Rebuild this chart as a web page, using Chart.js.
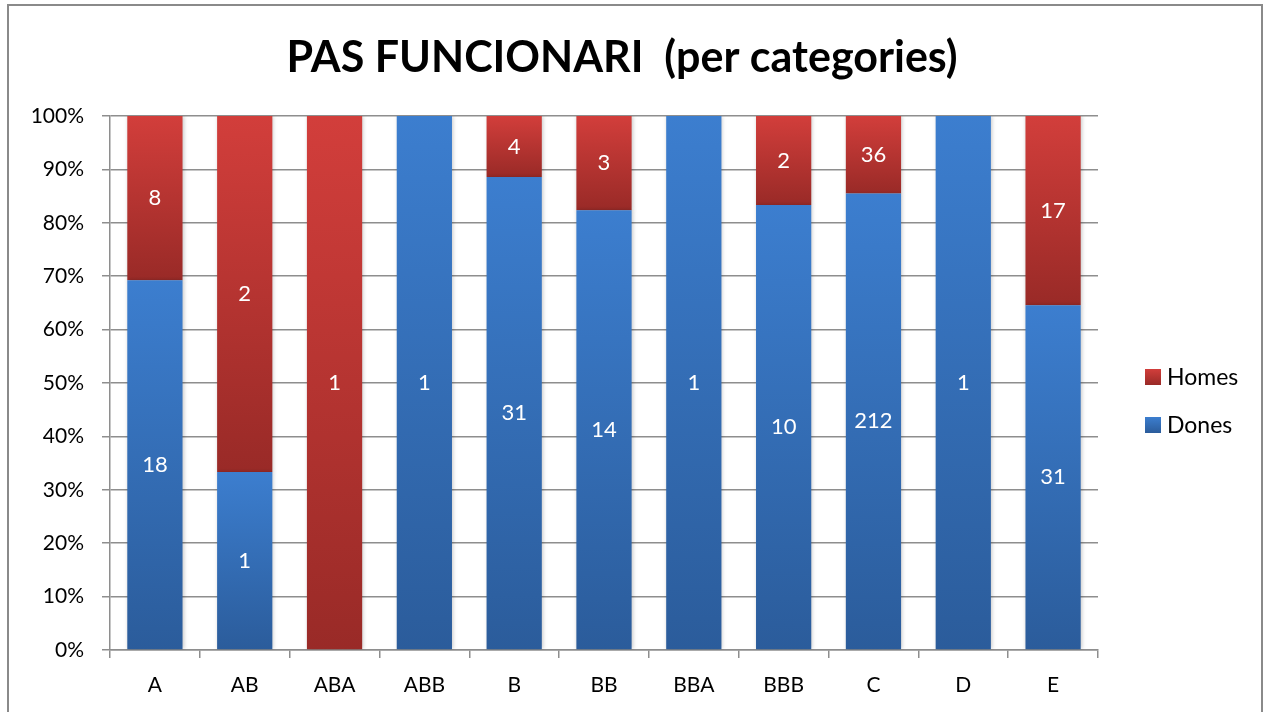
<!DOCTYPE html>
<html>
<head>
<meta charset="utf-8">
<script src="https://cdn.jsdelivr.net/npm/chart.js@4.4.1/dist/chart.umd.min.js"></script>
<style>
  html, body { margin: 0; padding: 0; background: #ffffff; }
  #wrap { width: 1264px; height: 712px; position: relative; }
</style>
</head>
<body>
<div id="wrap"><canvas id="c" width="1264" height="712"></canvas></div>
<script>
const categories = ['A', 'AB', 'ABA', 'ABB', 'B', 'BB', 'BBA', 'BBB', 'C', 'D', 'E'];
const dones = [18, 1, 0, 1, 31, 14, 1, 10, 212, 1, 31];
const homes = [8, 2, 1, 0, 4, 3, 0, 2, 36, 0, 17];
const titleText = 'PAS FUNCIONARI  (per categories)';
const seriesNames = ['Dones', 'Homes'];
const yTicks = [0, 10, 20, 30, 40, 50, 60, 70, 80, 90, 100];

const FONT = 'Lato, "Open Sans", sans-serif';
const totals = categories.map((_, i) => dones[i] + homes[i]);
const donesPct = dones.map((v, i) => totals[i] ? v / totals[i] * 100 : 0);
const homesPct = homes.map((v, i) => totals[i] ? v / totals[i] * 100 : 0);
const rawCounts = [dones, homes];

const COLORS = {
  blue: ['#3c7ecf', '#2b5c9b'],
  red: ['#d23e3b', '#992a27']
};

function gradFill(pair, dsIndex) {
  return function (ctx) {
    const chart = ctx.chart;
    const area = chart.chartArea;
    if (!area || ctx.type !== 'data') return pair[0];
    const y = chart.scales.y;
    const i = ctx.dataIndex;
    let base = 0;
    for (let d = 0; d < dsIndex; d++) base += chart.data.datasets[d].data[i];
    const top = base + chart.data.datasets[dsIndex].data[i];
    const y0 = y.getPixelForValue(top);
    const y1 = y.getPixelForValue(base);
    if (!(y1 > y0)) return pair[0];
    const g = chart.ctx.createLinearGradient(0, y0, 0, y1);
    g.addColorStop(0, pair[0]);
    g.addColorStop(1, pair[1]);
    return g;
  };
}

const decor = {
  id: 'decor',
  beforeDraw(chart) {
    const c = chart.ctx;
    c.save();
    c.fillStyle = '#ffffff';
    c.fillRect(0, 0, chart.width, chart.height);
    c.strokeStyle = '#8a8a8a';
    c.lineWidth = 2;
    c.strokeRect(8, 5, 1254, 720);
    c.fillStyle = '#000000';
    c.font = 'bold 43px ' + FONT;
    c.textAlign = 'center';
    c.textBaseline = 'middle';
    c.fillText(titleText, 622, 58);
    c.restore();
  },
  beforeDatasetsDraw(chart) {
    const c = chart.ctx;
    c.save();
    c.shadowColor = 'rgba(0,0,0,0.22)';
    c.shadowBlur = 4;
    c.shadowOffsetX = 1;
    c.shadowOffsetY = 0;
  },
  afterDatasetsDraw(chart) {
    const c = chart.ctx;
    c.restore();
    c.save();
    c.fillStyle = '#ffffff';
    c.font = '22px ' + FONT;
    c.textAlign = 'center';
    c.textBaseline = 'middle';
    chart.data.datasets.forEach((ds, d) => {
      const meta = chart.getDatasetMeta(d);
      meta.data.forEach((el, i) => {
        const v = rawCounts[d][i];
        if (!v) return;
        c.fillText(String(v), el.x, (el.y + el.base) / 2);
      });
    });
    // legend
    const items = [
      { name: seriesNames[1], pair: COLORS.red, y: 377 },
      { name: seriesNames[0], pair: COLORS.blue, y: 425 }
    ];
    c.textAlign = 'left';
    c.font = '23px ' + FONT;
    items.forEach(it => {
      const g = c.createLinearGradient(0, it.y - 8, 0, it.y + 8);
      g.addColorStop(0, it.pair[0]);
      g.addColorStop(1, it.pair[1]);
      c.fillStyle = g;
      c.fillRect(1145, it.y - 8, 16, 16);
      c.fillStyle = '#000000';
      c.fillText(it.name, 1167, it.y + 1);
    });
    c.restore();
  }
};

new Chart(document.getElementById('c'), {
  type: 'bar',
  data: {
    labels: categories,
    datasets: [
      { label: seriesNames[0], data: donesPct, backgroundColor: gradFill(COLORS.blue, 0), borderWidth: 0 },
      { label: seriesNames[1], data: homesPct, backgroundColor: gradFill(COLORS.red, 1), borderWidth: 0 }
    ]
  },
  options: {
    responsive: false,
    animation: false,
    devicePixelRatio: 1,
    layout: { padding: { left: 0, right: 166, top: 116, bottom: 0 } },
    datasets: { bar: { barPercentage: 0.615, categoryPercentage: 1.0 } },
    plugins: {
      legend: { display: false },
      title: { display: false },
      tooltip: { enabled: false }
    },
    scales: {
      x: {
        stacked: true,
        afterFit(s) { s.height = 62; },
        grid: { display: true, drawOnChartArea: false, drawTicks: true, tickLength: 8, color: '#8e8e8e', lineWidth: 1.5, offset: true },
        border: { display: true, color: '#8e8e8e', width: 1.5 },
        ticks: { color: '#000000', font: { family: FONT, size: 21 }, padding: 15, maxRotation: 0, autoSkip: false }
      },
      y: {
        stacked: true,
        min: 0,
        max: 100,
        afterFit(s) { s.width = 110; },
        afterBuildTicks(s) { s.ticks = yTicks.map(v => ({ value: v })); },
        grid: { display: true, drawOnChartArea: true, drawTicks: true, tickLength: 8, color: '#8e8e8e', lineWidth: 1.5 },
        border: { display: true, color: '#8e8e8e', width: 1.5 },
        ticks: { color: '#000000', font: { family: FONT, size: 21 }, padding: 18, callback: v => v + '%' }
      }
    }
  },
  plugins: [decor]
});
</script>
</body>
</html>
